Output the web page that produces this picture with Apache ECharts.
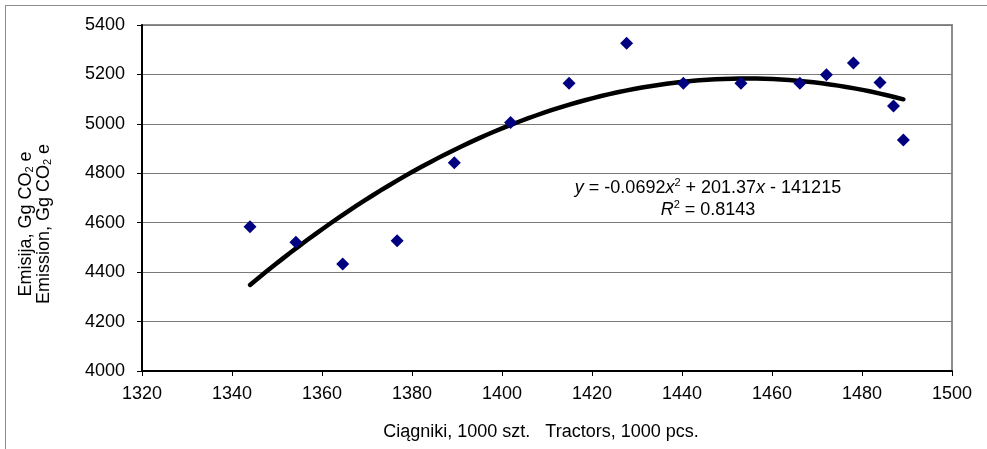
<!DOCTYPE html>
<html>
<head>
<meta charset="utf-8">
<script src="https://cdn.jsdelivr.net/npm/echarts@6/dist/echarts.min.js"></script>
<style>
  html, body { margin: 0; padding: 0; background: #fff; }
  #chart { width: 987px; height: 449px; }
</style>
</head>
<body>
<div id="chart"></div>
<script>
// Tractors (thousand units) vs. emission (Gg CO2 e)
const tractors = [1344.0, 1354.2, 1364.6, 1376.7, 1389.4, 1401.9, 1414.9, 1427.7,
                  1440.3, 1453.1, 1466.2, 1472.1, 1478.1, 1484.0, 1487.0, 1489.2];
const emission = [4584, 4521, 4433, 4527, 4843, 5005, 5164, 5326,
                  5164, 5164, 5164, 5199, 5246, 5167, 5072, 4935];

const xTicks = [1320, 1340, 1360, 1380, 1400, 1420, 1440, 1460, 1480, 1500];
const yTicks = [4000, 4200, 4400, 4600, 4800, 5000, 5200, 5400];

const xTitle = 'Ciągniki, 1000 szt.   Tractors, 1000 pcs.';
const yTitle1 = 'Emisija, Gg CO{sub|2} e';
const yTitle2 = 'Emission, Gg CO{sub|2} e';
const equation = '{i|y} = -0.0692{i|x}{sup|2} + 201.37{i|x} - 141215';
const rSquared = '{i|R}{sup|2} = 0.8143';

// Least-squares quadratic trend through the scatter points
function quadFit(xs, ys) {
  const n = xs.length;
  const mx = xs.reduce((a, b) => a + b, 0) / n;
  let s = [0, 0, 0, 0, 0], t = [0, 0, 0];
  for (let k = 0; k < n; k++) {
    const u = xs[k] - mx;
    let p = 1;
    for (let j = 0; j < 5; j++) { s[j] += p; if (j < 3) t[j] += p * ys[k]; p *= u; }
  }
  const A = [[s[0], s[1], s[2], t[0]], [s[1], s[2], s[3], t[1]], [s[2], s[3], s[4], t[2]]];
  for (let i = 0; i < 3; i++) {
    for (let r = i + 1; r < 3; r++) {
      const f = A[r][i] / A[i][i];
      for (let c = i; c < 4; c++) A[r][c] -= f * A[i][c];
    }
  }
  const c = [0, 0, 0];
  for (let i = 2; i >= 0; i--) {
    let v = A[i][3];
    for (let j = i + 1; j < 3; j++) v -= A[i][j] * c[j];
    c[i] = v / A[i][i];
  }
  return x => c[0] + c[1] * (x - mx) + c[2] * (x - mx) * (x - mx);
}

const trend = quadFit(tractors, emission);
const xMin = Math.min(...tractors), xMax = Math.max(...tractors);
const trendData = [];
for (let k = 0; k <= 80; k++) {
  const x = xMin + (xMax - xMin) * k / 80;
  trendData.push([x, trend(x)]);
}

const FONT = '"Liberation Sans", Arial, sans-serif';
const plain = v => String(v);

const chart = echarts.init(document.getElementById('chart'), null, { renderer: 'canvas' });
chart.setOption({
  animation: false,
  backgroundColor: '#ffffff',
  textStyle: { fontFamily: FONT },
  grid: {
    left: 142, top: 25, right: 35, bottom: 78,
    show: true, borderColor: '#8c8c8c', borderWidth: 2, backgroundColor: '#ffffff'
  },
  xAxis: {
    type: 'value',
    min: xTicks[0], max: xTicks[xTicks.length - 1], interval: xTicks[1] - xTicks[0],
    axisLine: { show: true, onZero: false, lineStyle: { color: '#000', width: 2 } },
    axisTick: { show: true, inside: false, length: 5, lineStyle: { color: '#000', width: 1 } },
    axisLabel: { fontSize: 18, color: '#000', margin: 14, fontFamily: FONT, formatter: plain },
    splitLine: { show: false }
  },
  yAxis: {
    type: 'value',
    min: yTicks[0], max: yTicks[yTicks.length - 1], interval: yTicks[1] - yTicks[0],
    axisLine: { show: true, onZero: false, lineStyle: { color: '#000', width: 2 } },
    axisTick: { show: true, inside: false, length: 5, lineStyle: { color: '#000', width: 1 } },
    axisLabel: { fontSize: 18, color: '#000', margin: 17, fontFamily: FONT, formatter: plain },
    splitLine: { show: true, lineStyle: { color: '#7a7a7a', width: 1 } }
  },
  series: [
    {
      type: 'line',
      data: trendData,
      showSymbol: false,
      symbol: 'none',
      lineStyle: { color: '#000', width: 4.5, cap: 'round', join: 'round' },
      z: 2,
      silent: true
    },
    {
      type: 'scatter',
      data: tractors.map((x, k) => [x, emission[k]]),
      symbol: 'diamond',
      symbolSize: 13,
      itemStyle: { color: '#000080', opacity: 1 },
      z: 3
    }
  ],
  graphic: [
    { type: 'line', shape: { x1: 5, y1: 5.5, x2: 987, y2: 5.5 },
      style: { stroke: '#8c8c8c', lineWidth: 1 }, silent: true },
    { type: 'line', shape: { x1: 5.5, y1: 5, x2: 5.5, y2: 449 },
      style: { stroke: '#8c8c8c', lineWidth: 1 }, silent: true },
    {
      type: 'text', x: 708, y: 177, z: 10,
      style: {
        text: equation + '\n' + rSquared,
        font: '18px ' + FONT, fill: '#000',
        textAlign: 'center', textVerticalAlign: 'top', lineHeight: 22,
        rich: {
          i: { fontStyle: 'italic', fontSize: 18, fontFamily: FONT, fill: '#000' },
          sup: { fontSize: 11, fontFamily: FONT, verticalAlign: 'top', lineHeight: 14, fill: '#000' }
        }
      }
    },
    {
      type: 'text', x: 35, y: 224, rotation: Math.PI / 2, z: 10,
      style: {
        text: yTitle1 + '\n' + yTitle2,
        font: '18px ' + FONT, fill: '#000',
        textAlign: 'center', textVerticalAlign: 'middle', lineHeight: 18,
        rich: {
          sub: { fontSize: 11, fontFamily: FONT, verticalAlign: 'bottom', lineHeight: 12, fill: '#000' }
        }
      }
    },
    {
      type: 'text', x: 541, y: 432, z: 10,
      style: {
        text: xTitle, font: '18px ' + FONT, fill: '#000',
        textAlign: 'center', textVerticalAlign: 'middle'
      }
    }
  ]
});
</script>
</body>
</html>
